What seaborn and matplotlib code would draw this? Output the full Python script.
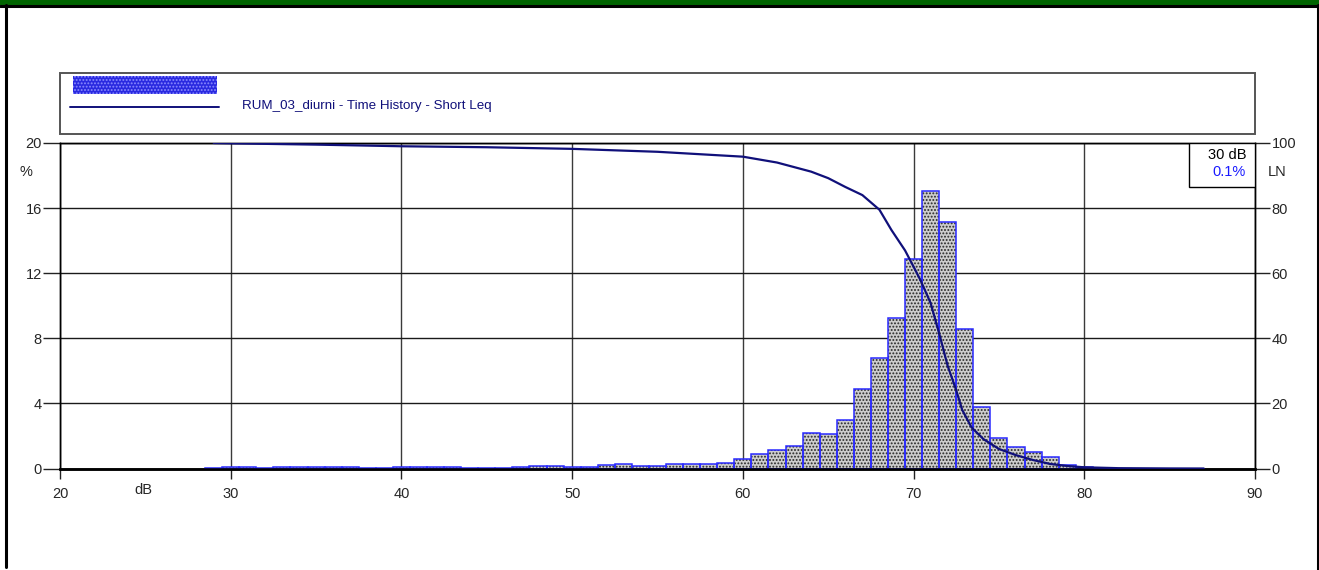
import numpy as np
import pandas as pd
import matplotlib
matplotlib.use("Agg")
import matplotlib.pyplot as plt
from matplotlib.patches import Rectangle
from matplotlib.lines import Line2D
import seaborn as sns

# Level distribution: 1 dB classes (centre, % of time)
level_db = list(range(29, 82))
percent_time = [
    0.02, 0.12, 0.08, 0.03, 0.10, 0.10, 0.10, 0.07, 0.10, 0.02,   # 29-38
    0.02, 0.07, 0.10, 0.07, 0.08, 0.04, 0.04, 0.04, 0.07, 0.15,   # 39-48
    0.15, 0.10, 0.10, 0.20, 0.30, 0.15, 0.17, 0.30, 0.28, 0.28,   # 49-58
    0.36, 0.60, 0.90, 1.15, 1.40, 2.20, 2.15, 3.00, 4.90, 6.80,   # 59-68
    9.25, 12.86, 17.06, 15.12, 8.60, 3.76, 1.86, 1.30, 1.03, 0.69, # 69-78
    0.20, 0.10, 0.05,                                             # 79-81
]

# Cumulative exceedance curve LN (% of time above level)
ln_db = [29, 30, 35, 40, 45, 50, 55, 60, 62, 64, 65, 66, 67, 68, 68.7,
         69.5, 70.0, 70.4, 71.0, 71.55, 72.0, 72.5, 72.85, 73.4, 74.1,
         75, 76, 77, 78, 79, 80, 82, 85, 87]
ln_pct = [100, 99.9, 99.5, 99.0, 98.7, 98.2, 97.3, 95.8, 94.0, 91.2, 89.2,
          86.5, 84.0, 79.5, 73.3, 67.0, 62.0, 57.9, 50.8, 40.5, 31.5, 24.0,
          18.0, 12.6, 9.0, 6.0, 4.1, 2.6, 1.4, 0.77, 0.37, 0.1, 0.02, 0.0]

x_ticks = [20, 30, 40, 50, 60, 70, 80, 90]
y_ticks_pct = [0, 4, 8, 12, 16, 20]
y_ticks_ln = [0, 20, 40, 60, 80, 100]
series_name = "RUM_03_diurni - Time History - Short Leq"
cursor_level = "30 dB"
cursor_value = "0.1%"

sns.set_theme(style="white")
plt.rcParams["font.family"] = ["Liberation Sans", "DejaVu Sans"]
plt.rcParams["hatch.linewidth"] = 0.9

W, H = 1319, 570
fig = plt.figure(figsize=(W / 100, H / 100), dpi=100)


def fx(px):
    return px / W


def fy(py):
    return 1 - py / H


# plot area in pixels
L, R, T, B = 60, 1255, 143, 468.5
ax = fig.add_axes([fx(L), fy(B), fx(R - L), (B - T) / H])

df = pd.DataFrame({"level": level_db, "pct": percent_time})
hist_range = (level_db[0] - 0.5, level_db[-1] + 0.5)

# stippled grey fill
sns.histplot(data=df, x="level", weights="pct", binwidth=1,
             binrange=hist_range, ax=ax, stat="count", element="bars",
             fill=True, color="#d4d4d4", alpha=1, linewidth=0)
for p in ax.patches:
    p.set_facecolor("#cdcdcd")
    p.set_edgecolor("#262626")
    p.set_hatch(".....")
    p.set_linewidth(0)
    p.set_zorder(2)
n_fill = len(ax.patches)
# blue outlines
sns.histplot(data=df, x="level", weights="pct", binwidth=1,
             binrange=hist_range, ax=ax, stat="count", element="bars",
             fill=False, color="#2a2aff", linewidth=1.1)
for p in ax.patches[n_fill:]:
    p.set_zorder(3)

ax.set_xlim(20, 90)
ax.set_ylim(0, 20)
ax.set_xticks(x_ticks)
ax.set_yticks(y_ticks_pct)
ax.set_xlabel("")
ax.set_ylabel("")
ax.set_axisbelow(True)
ax.grid(True, axis="y", color="#1a1a1a", linewidth=1.0)
ax.grid(True, axis="x", color="#3a3a3a", linewidth=1.0)
for s in ax.spines.values():
    s.set_color("black")
    s.set_linewidth(1.0)
ax.spines["bottom"].set_linewidth(1.8)
ax.tick_params(axis="y", direction="out", length=12, width=1, color="#222",
               pad=1, labelsize=10.5, left=True)
ax.tick_params(axis="x", direction="out", length=7, width=1, color="#222",
               pad=6, labelsize=10.5, bottom=True)

ax2 = ax.twinx()
sns.lineplot(x=ln_db, y=ln_pct, ax=ax2, color="#10107a", linewidth=1.6,
             zorder=5)
ax2.set_ylim(0, 100)
ax2.set_yticks(y_ticks_ln)
ax2.set_ylabel("")
ax2.tick_params(axis="y", direction="out", length=11, width=1, color="#222",
                pad=1, labelsize=10.5, right=True)
for s in ax2.spines.values():
    s.set_color("black")
    s.set_linewidth(1.0)
ax2.spines["bottom"].set_linewidth(1.8)

# axis captions
fig.text(fx(26), fy(172), "%", ha="center", va="center", fontsize=10.5)
fig.text(fx(1268), fy(172), "LN", ha="left", va="center", fontsize=10.5)
fig.text(fx(143), fy(490), "dB", ha="center", va="center", fontsize=10.5)

# cursor read-out box
ax2.add_patch(Rectangle((fx(1189), fy(187)), fx(R - 1189), (187 - T) / H,
                        transform=fig.transFigure, facecolor="white",
                        edgecolor="black", linewidth=1.0, zorder=10))
fig.text(fx(1246), fy(155), cursor_level, ha="right", va="center",
         fontsize=10.5, color="black", zorder=11)
fig.text(fx(1246), fy(172), cursor_value, ha="right", va="center",
         fontsize=10.5, color="#1a1aff", zorder=11)

# legend panel
fig.patches.append(Rectangle((fx(60), fy(134)), fx(R - 60), (134 - 73) / H,
                             transform=fig.transFigure, facecolor="white",
                             edgecolor="#555555", linewidth=1.4))
fig.patches.append(Rectangle((fx(73), fy(94)), fx(217 - 73), (94 - 76) / H,
                             transform=fig.transFigure, facecolor="#2a2ae0",
                             edgecolor="#8c8cff", hatch=".....",
                             linewidth=0))
fig.lines.append(Line2D([fx(70), fx(219)], [fy(106.5), fy(106.5)],
                        transform=fig.transFigure, color="#10107a",
                        linewidth=1.4))
fig.text(fx(242), fy(106), series_name, ha="left", va="center",
         fontsize=9.6, color="#10107a")

# frame: green header band and side borders
fig.patches.append(Rectangle((0, fy(4.5)), 1, 4.5 / H,
                             transform=fig.transFigure, facecolor="#006400",
                             edgecolor="none"))
fig.lines.append(Line2D([0, 1], [fy(5.5), fy(5.5)], transform=fig.transFigure,
                        color="black", linewidth=2.2))
fig.lines.append(Line2D([fx(6), fx(6)], [fy(5), fy(567)],
                        transform=fig.transFigure, color="black",
                        linewidth=2.2))
fig.lines.append(Line2D([fx(1318), fx(1318)], [fy(5), fy(570)],
                        transform=fig.transFigure, color="black",
                        linewidth=2.2))

fig.savefig("out.png", dpi=100)
